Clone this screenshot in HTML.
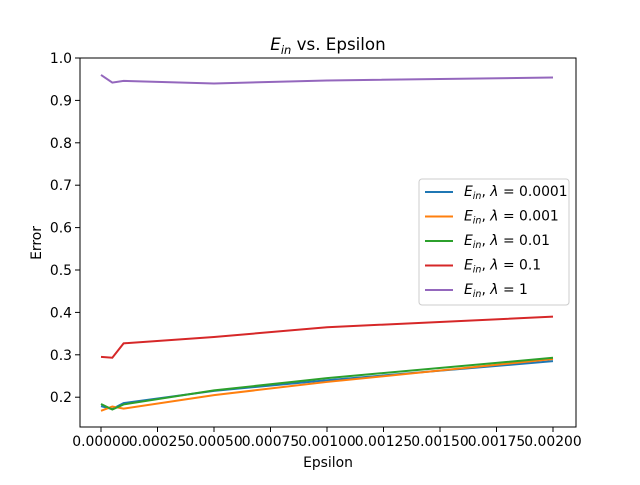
<!DOCTYPE html>
<html><head><meta charset="utf-8"><style>
body{margin:0;background:#fff;}
svg text{font-family:"DejaVu Sans","Liberation Sans",sans-serif;fill:#000;}
</style></head><body>
<svg id="chart" width="640" height="480"></svg>
<script>
const xs=[0,0.00005,0.0001,0.0005,0.001,0.002];
const sBlue=[0.179,0.172,0.186,0.215,0.240,0.285];
const sOrange=[0.168,0.178,0.173,0.205,0.236,0.290];
const sGreen=[0.184,0.171,0.183,0.216,0.245,0.293];
const sRed=[0.295,0.293,0.327,0.342,0.365,0.390];
const sPurple=[0.960,0.942,0.946,0.940,0.947,0.954];
const xTicks=[0,0.00025,0.0005,0.00075,0.001,0.00125,0.0015,0.00175,0.002];
const xTickLabels=["0.00000","0.00025","0.00050","0.00075","0.00100","0.00125","0.00150","0.00175","0.00200"];
const yTicks=[0.2,0.3,0.4,0.5,0.6,0.7,0.8,0.9,1.0];
const legendLabels=["0.0001","0.001","0.01","0.1","1"];
const NS="http://www.w3.org/2000/svg";
const svg=document.getElementById('chart');
const L=80,R=576,T=58,B=427;
const X=v=>101+v*226000;
const Y=v=>58+(1-v)*424;
function mk(t,a,p){const e=document.createElementNS(NS,t);for(const k in a)e.setAttribute(k,a[k]);(p||svg).appendChild(e);return e;}
const series=[[sBlue,'#1f77b4'],[sOrange,'#ff7f0e'],[sGreen,'#2ca02c'],[sRed,'#d62728'],[sPurple,'#9467bd']];
series.forEach((s,i)=>{
  const p=mk('polyline',{points:xs.map((x,j)=>X(x)+','+Y(s[0][j])).join(' '),fill:'none',stroke:s[1],'stroke-width':2});
  
  
});
const frame=mk('rect',{x:L,y:T,width:R-L,height:B-T,fill:'none',stroke:'#000','stroke-width':1});


xTicks.forEach((v,i)=>{
  mk('line',{x1:X(v),x2:X(v),y1:B,y2:B+5,stroke:'#000','stroke-width':1});
  const t=mk('text',{x:X(v),y:B+19,'font-size':13.9,'text-anchor':'middle'});t.textContent=xTickLabels[i];
  
  
});
yTicks.forEach(v=>{
  mk('line',{x1:L-5,x2:L,y1:Y(v),y2:Y(v),stroke:'#000','stroke-width':1});
  const t=mk('text',{x:L-8,y:Y(v)+5,'font-size':13.9,'text-anchor':'end'});t.textContent=v.toFixed(1);
  
  
});
const xt=mk('text',{x:328,y:467,'font-size':13.9,'text-anchor':'middle'});xt.textContent='Epsilon';


const yt=mk('text',{x:0,y:0,'font-size':13.9,'text-anchor':'middle',transform:'translate(41,243) rotate(-90)'});yt.textContent='Error';


const tt=mk('text',{x:328,y:50,'font-size':16.7,'text-anchor':'middle'});
tt.innerHTML='<tspan font-style="italic">E</tspan><tspan font-style="italic" font-size="11.5" dy="4">in</tspan><tspan dy="-4"> vs. Epsilon</tspan>';


const lg=mk('g',{});


mk('rect',{x:419,y:179,width:150,height:126,rx:3,fill:'#fff','fill-opacity':0.8,stroke:'#ccc'},lg);
series.forEach((s,i)=>{
  const yy=192+i*24.5;
  mk('line',{x1:425,x2:453,y1:yy,y2:yy,stroke:s[1],'stroke-width':2},lg);
  const t=mk('text',{x:464,y:yy+4,'font-size':13.9},lg);
  t.innerHTML='<tspan font-style="italic">E</tspan><tspan font-style="italic" font-size="9.5" dy="3">in</tspan><tspan dy="-3">, </tspan><tspan font-style="italic">λ</tspan><tspan> = '+legendLabels[i]+'</tspan>';
  
  
});
</script>
</body></html>
